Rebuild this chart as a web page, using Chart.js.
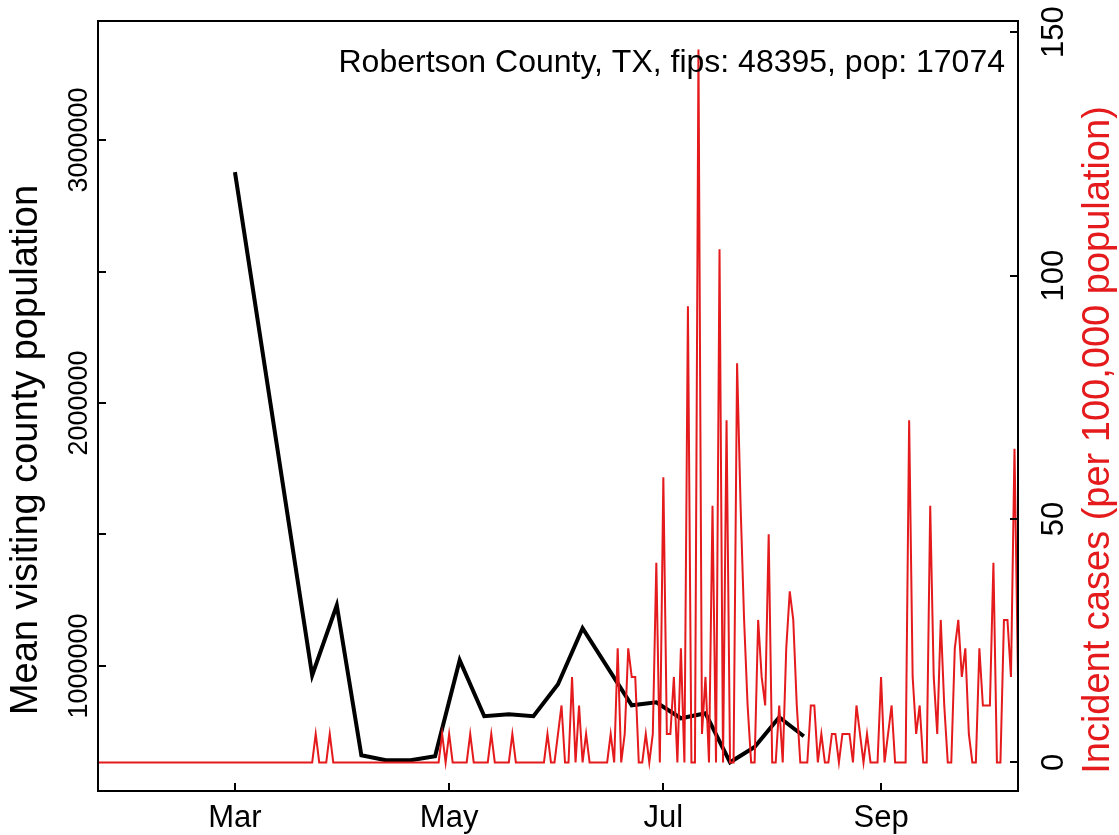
<!DOCTYPE html>
<html>
<head>
<meta charset="utf-8">
<script src="https://cdn.jsdelivr.net/npm/chart.js@4/dist/chart.umd.min.js"></script>
<style>
  html, body { margin: 0; padding: 0; background: #ffffff; }
  #wrap { width: 1119px; height: 835px; }
</style>
</head>
<body>
<div id="wrap"><canvas id="c" width="1119" height="835"></canvas></div>
<script>
// ---- data (x = day of year 2020, Jan 1 = 0) ----
const chartTitle = 'Robertson County, TX, fips: 48395, pop: 17074';
const leftAxisTitle = 'Mean visiting county population';
const rightAxisTitle = 'Incident cases (per 100,000 population)';

const monthTickDays = [60, 121, 182, 244];
const monthTickLabels = ['Mar', 'May', 'Jul', 'Sep'];

const leftTickValues = [1000000, 1500000, 2000000, 2500000, 3000000];
const leftTickLabels = ['1000000', '', '2000000', '', '3000000'];
const rightTickValues = [0, 50, 100, 150];
const rightTickLabels = ['0', '50', '100', '150'];

// weekly mean visiting county population
const visitDays = [60, 82, 89, 96, 103, 110, 117, 124, 131, 138, 145, 152, 159,
                   173, 180, 187, 194, 201, 208, 215, 222];
const visitPop = [2878000, 964600, 1230900, 660300, 641300, 641300, 656500, 1021700,
                  808700, 816300, 808700, 930400, 1143500,
                  850500, 861900, 801000, 820000, 633600, 691800, 804800, 732500];

// daily incident cases per 100,000, starting Jan 22 (day 21)
const incidentStartDay = 21;
const incidentRates = [
  0,0,0,0,0,0,0,0,0,0,            // 21-30
  0,0,0,0,0,0,0,0,0,0,            // 31-40
  0,0,0,0,0,0,0,0,0,0,            // 41-50
  0,0,0,0,0,0,0,0,0,0,            // 51-60
  0,0,0,0,0,0,0,0,0,0,            // 61-70
  0,0,0,0,0,0,0,0,0,0,            // 71-80
  0,0,5.86,0,0,0,5.86,0,0,0,      // 81-90
  0,0,0,0,0,0,0,0,0,0,            // 91-100
  0,0,0,0,0,0,0,0,0,0,            // 101-110
  0,0,0,0,0,0,0,0,5.86,0,         // 111-120
  5.86,0,0,0,0,0,5.86,0,0,0,      // 121-130
  0,0,5.86,0,0,0,0,0,5.86,0,      // 131-140
  0,0,0,0,0,0,0,0,5.86,0,         // 141-150
  0,5.86,11.71,0,0,17.57,0,11.71,0,5.86,          // 151-160
  0,0,0,0,0,0,5.86,0,23.43,0,                     // 161-170
  5.86,23.43,17.57,17.57,0,0,5.86,0,5.86,41.0,    // 171-180
  0,58.57,5.86,5.86,17.57,0,23.43,0,93.71,0,      // 181-190
  0,146.42,5.86,17.57,0,52.71,0,105.42,0,70.28,   // 191-200
  0,0,82.0,52.71,29.28,11.71,0,0,29.28,17.57,     // 201-210
  11.71,46.86,0,0,11.71,0,23.43,35.14,29.28,11.71,// 211-220
  0,0,0,11.71,11.71,0,5.86,0,0,5.86,              // 221-230
  5.86,0,5.86,5.86,5.86,0,11.71,5.86,0,5.86,      // 231-240
  0,0,0,17.57,0,5.86,11.71,0,0,0,                 // 241-250
  0,70.28,17.57,5.86,11.71,0,0,52.71,17.57,5.86,  // 251-260
  29.28,11.71,0,0,23.43,29.28,17.57,23.43,5.86,0, // 261-270
  0,23.43,11.71,11.71,11.71,41.0,0,0,29.28,29.28, // 271-280
  17.57,64.43,17.57                               // 281-283
];

// ---- build library data from the arrays ----
const visitPoints = visitDays.map((d, i) => ({ x: d, y: visitPop[i] }));
const incidentPoints = incidentRates.map((v, i) => ({ x: incidentStartDay + i, y: v }));

const RED = '#e41a1c';
const FONT = '"Liberation Sans", Arial, Helvetica, sans-serif';

const rAxes = {
  id: 'rAxes',
  afterDraw(chart) {
    const ctx = chart.ctx;
    const a = chart.chartArea;
    const sx = chart.scales.x, sy = chart.scales.y, sy2 = chart.scales.y2;
    const tick = 8;
    ctx.save();
    // box
    ctx.strokeStyle = '#000';
    ctx.lineWidth = 2;
    ctx.strokeRect(a.left, a.top, a.right - a.left, a.bottom - a.top);
    // ticks (inward)
    ctx.beginPath();
    monthTickDays.forEach(d => {
      const x = Math.round(sx.getPixelForValue(d));
      ctx.moveTo(x, a.bottom); ctx.lineTo(x, a.bottom - tick);
    });
    leftTickValues.forEach(v => {
      const y = Math.round(sy.getPixelForValue(v));
      ctx.moveTo(a.left, y); ctx.lineTo(a.left + tick, y);
    });
    rightTickValues.forEach(v => {
      const y = Math.round(sy2.getPixelForValue(v));
      ctx.moveTo(a.right, y); ctx.lineTo(a.right - tick, y);
    });
    ctx.stroke();

    // x tick labels
    ctx.fillStyle = '#000';
    ctx.font = '31px ' + FONT;
    ctx.textAlign = 'center';
    ctx.textBaseline = 'middle';
    monthTickDays.forEach((d, i) => {
      ctx.fillText(monthTickLabels[i], sx.getPixelForValue(d), a.bottom + 27);
    });
    // rotated y labels
    function vtext(txt, x, y, font, color) {
      ctx.save();
      ctx.translate(x, y);
      ctx.rotate(-Math.PI / 2);
      ctx.font = font;
      ctx.fillStyle = color;
      ctx.textAlign = 'center';
      ctx.textBaseline = 'middle';
      ctx.fillText(txt, 0, 0);
      ctx.restore();
    }
    leftTickValues.forEach((v, i) => {
      if (leftTickLabels[i]) vtext(leftTickLabels[i], a.left - 18, sy.getPixelForValue(v), '27px ' + FONT, '#000');
    });
    rightTickValues.forEach((v, i) => {
      vtext(rightTickLabels[i], a.right + 36, sy2.getPixelForValue(v), '31px ' + FONT, '#000');
    });
    vtext(leftAxisTitle, 27, 450, '38px ' + FONT, '#000');
    vtext(rightAxisTitle, 1099, 440, '38px ' + FONT, RED);

    // title inside plot
    ctx.font = '32px ' + FONT;
    ctx.fillStyle = '#000';
    ctx.textAlign = 'right';
    ctx.textBaseline = 'middle';
    ctx.fillText(chartTitle, 1005, 63);
    ctx.restore();
  }
};

new Chart(document.getElementById('c'), {
  type: 'line',
  data: {
    datasets: [
      {
        label: 'Incident cases',
        data: incidentPoints,
        yAxisID: 'y2',
        borderColor: RED,
        borderWidth: 2,
        pointRadius: 0,
        tension: 0,
        order: 0
      },
      {
        label: 'Mean visiting county population',
        data: visitPoints,
        yAxisID: 'y',
        borderColor: '#000',
        borderWidth: 4,
        pointRadius: 0,
        tension: 0,
        order: 1
      }
    ]
  },
  options: {
    responsive: false,
    animation: false,
    devicePixelRatio: 1,
    layout: { padding: { left: 98, top: 21, right: 101, bottom: 44 } },
    plugins: { legend: { display: false }, tooltip: { enabled: false }, title: { display: false } },
    scales: {
      x: { type: 'linear', min: 21, max: 283, display: false },
      y: { type: 'linear', min: 524400, max: 3452700, display: false, position: 'left' },
      y2: { type: 'linear', min: -5.857, max: 152.28, display: false, position: 'right' }
    }
  },
  plugins: [rAxes]
});
</script>
</body>
</html>
